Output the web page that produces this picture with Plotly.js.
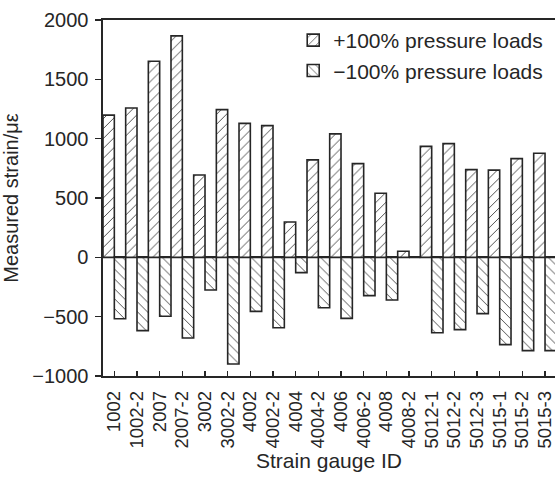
<!DOCTYPE html>
<html>
<head>
<meta charset="utf-8">
<script src="https://cdn.plot.ly/plotly-3.0.1.min.js"></script>
<style>html,body{margin:0;padding:0;overflow:hidden;background:#fff;}</style>
</head>
<body>
<div id="chart" style="width:555px;height:479px;"></div>
<script>
const gaugeIds = ["1002","1002-2","2007","2007-2","3002","3002-2","4002","4002-2","4004","4004-2","4006","4006-2","4008","4008-2","5012-1","5012-2","5012-3","5015-1","5015-2","5015-3"];
const positiveLoads = [1198,1259,1652,1866,694,1245,1129,1110,298,821,1040,790,540,51,935,958,739,735,832,877];
const negativeLoads = [-517,-618,-497,-680,-275,-899,-455,-593,-129,-425,-514,-323,-359,0,-635,-609,-474,-736,-786,-786];
const yTicks = [-1000,-500,0,500,1000,1500,2000];

const ink = '#262626';
const fam = 'Liberation Sans, Arial, sans-serif';

const traces = [
  {type:'bar', x: gaugeIds, y: positiveLoads, name: '+100% pressure loads',
   marker:{color:'#fff', line:{color:ink, width:1.6},
     pattern:{shape:'/', fgcolor:'#333', bgcolor:'#fff', size:7, solidity:0.12, fillmode:'replace'}}},
  {type:'bar', x: gaugeIds, y: negativeLoads, name: '\u2212100% pressure loads',
   marker:{color:'#fff', line:{color:ink, width:1.6},
     pattern:{shape:'\\', fgcolor:'#333', bgcolor:'#fff', size:7, solidity:0.12, fillmode:'replace'}}}
];

const layout = {
  width: 555, height: 479,
  margin: {l:103, r:0, t:20, b:103},
  paper_bgcolor:'#fff', plot_bgcolor:'#fff',
  font: {family: fam, size: 20, color: ink},
  barmode: 'group', bargap: 0, bargroupgap: 0,
  showlegend: true,
  legend: {x:0.985, xanchor:'right', y:1.0, yanchor:'top', bgcolor:'rgba(0,0,0,0)',
           font:{family:fam, size:21, color:ink}, tracegroupgap:0, itemwidth:30},
  xaxis: {
    type:'category', range:[-0.5, 19.44],
    showline:true, linecolor:ink, linewidth:1.6, mirror:true,
    ticks:'inside', ticklen:5, tickcolor:ink, tickwidth:1.2,
    tickangle:-90, ticklabelstandoff:6,
    tickfont:{family:fam, size:18.5, color:ink},
    showgrid:false, zeroline:false,
    title:{text:'Strain gauge ID', font:{family:fam, size:21, color:ink}, standoff:4}
  },
  yaxis: {
    range:[-1000, 2000], tickvals: yTicks,
    showline:true, linecolor:ink, linewidth:1.6, mirror:false,
    ticks:'outside', ticklen:6, tickcolor:ink, tickwidth:1.2,
    ticklabelstandoff:3,
    tickfont:{family:fam, size:20, color:ink},
    showgrid:false, zeroline:true, zerolinecolor:ink, zerolinewidth:2,
    title:{text:'Measured strain/\u03bc\u03b5', font:{family:fam, size:20, color:ink}, standoff:8}
  }
};

Plotly.newPlot('chart', traces, layout, {displayModeBar:false, staticPlot:true});
</script>
</body>
</html>
